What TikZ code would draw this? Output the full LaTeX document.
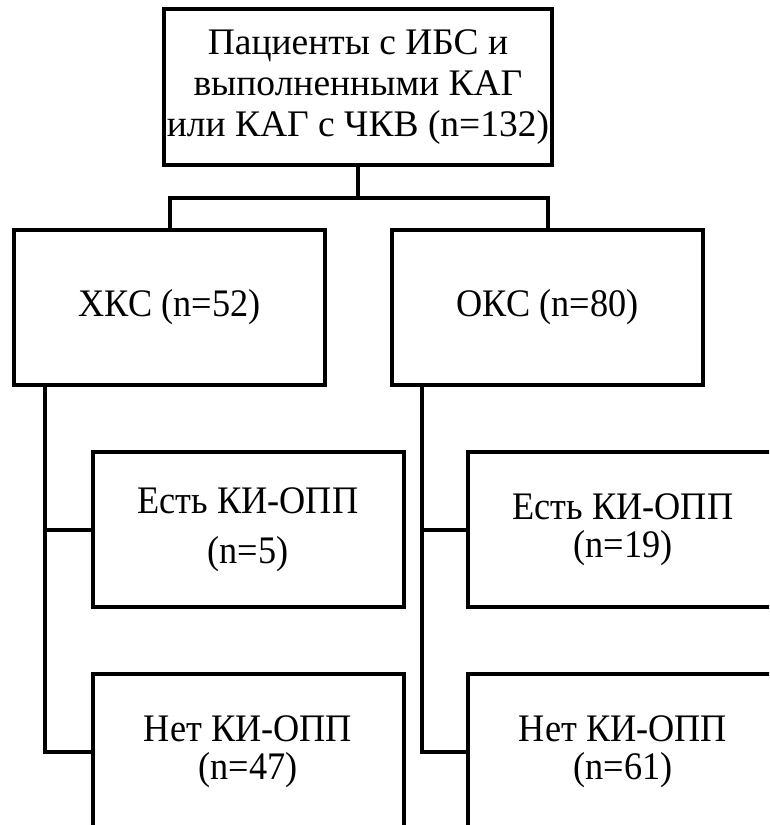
\documentclass[tikz,border=0pt]{standalone}
\usepackage{fontspec}
\setmainfont{Liberation Serif}
\newfontfamily\narrowserif[FakeStretch=0.93]{Liberation Serif}
\usetikzlibrary{positioning}

\begin{document}
\begin{tikzpicture}[x=1pt,y=-1pt]
      \tikzstyle{box}=[draw, line width=4pt, outer sep=0pt, minimum width=311pt, minimum height=155pt, align=center, font=\narrowserif\fontsize{39}{38}\selectfont]
      \tikzstyle{box_top}=[box, minimum width=388pt, minimum height=156pt, font=\fontsize{37.5}{41}\selectfont]
      \tikzstyle{link}=[line width=4pt]

      \clip (0,0) rectangle (769,825);
      \fill [white] (0,0) rectangle (769,825);

      \node [box_top] (patients) at (358,87) {Пациенты с ИБС и\\выполненными КАГ\\или КАГ с ЧКВ (n=132)};

      \node [box] (chronic) at (169.5,307.5) {ХКС (n=52)};
      \node [box] (acute) [right=67pt of chronic] {ОКС (n=80)};

      \node [box] (chronic_yes) at (248,529.5) {Есть КИ-ОПП\\[12pt](n=5)};
      \node [box] (chronic_no) [below=67pt of chronic_yes] {Нет КИ-ОПП\\(n=47)};
      \node [box] (acute_yes) [right=64pt of chronic_yes] {Есть КИ-ОПП\\(n=19)};
      \node [box] (acute_no) [below=67pt of acute_yes] {Нет КИ-ОПП\\(n=61)};

      \coordinate (split) at (358,198);
      \draw [link] (patients.south) -- (split) -| (chronic.north);
      \draw [link] (split) -| (acute.north);

      \draw [link] ([xshift=31pt]chronic.south west) |- (chronic_yes.west);
      \draw [link] ([xshift=31pt]chronic.south west) |- (chronic_no.west);
      \draw [link] ([xshift=30pt]acute.south west) |- (acute_yes.west);
      \draw [link] ([xshift=30pt]acute.south west) |- (acute_no.west);
    \end{tikzpicture}
\end{document}
